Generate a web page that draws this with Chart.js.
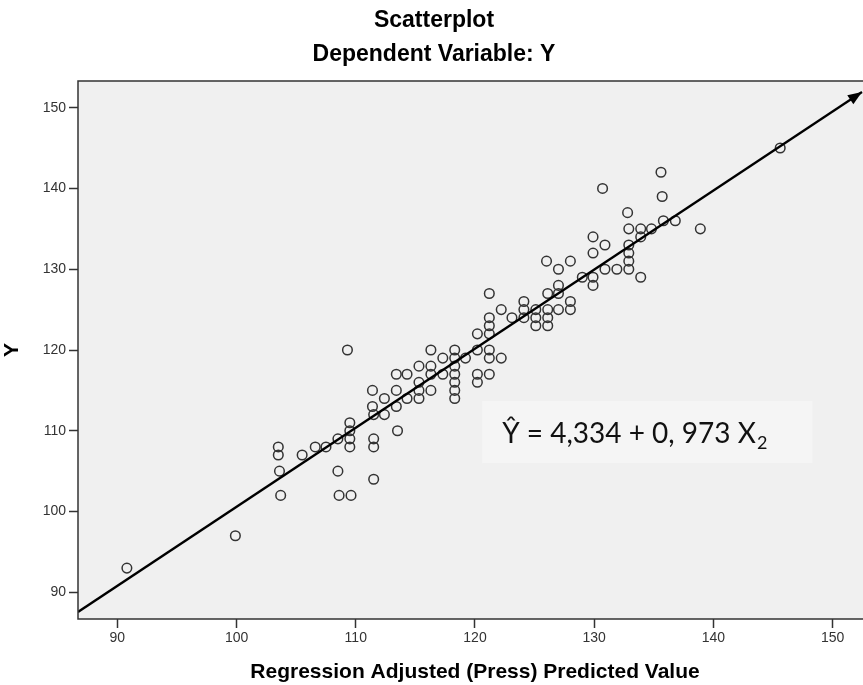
<!DOCTYPE html>
<html>
<head>
<meta charset="utf-8">
<title>Scatterplot</title>
<script src="https://cdn.jsdelivr.net/npm/chart.js@4.4.1/dist/chart.umd.min.js"></script>
<style>
  html, body { margin: 0; padding: 0; background: #fff; overflow: hidden; }
  #wrap { width: 880px; height: 685px; }
</style>
</head>
<body>
<div id="wrap"><canvas id="scatter" width="880" height="685"></canvas></div>
<script>
// adjusted (press) predicted value for each case
var predX = [
  90.8, 99.9,
  103.5, 103.5, 103.6, 103.7, 105.5, 106.6, 107.5,
  108.5, 108.5, 108.6, 109.6, 109.3,
  109.5, 109.5, 109.5, 109.5,
  111.4, 111.4, 111.5, 111.5, 111.5, 111.5,
  112.4, 112.4,
  113.4, 113.4, 113.4, 113.5,
  114.3, 114.3,
  115.3, 115.3, 115.3, 115.3,
  116.3, 116.3, 116.3, 116.3,
  117.3, 117.3,
  118.3, 118.3, 118.3, 118.3, 118.3, 118.3, 118.3,
  119.2,
  120.2, 120.2, 120.2, 120.2,
  121.2, 121.2, 121.2, 121.2, 121.2, 121.2, 121.2,
  122.2, 122.2, 123.1,
  124.1, 124.1, 124.1,
  125.1, 125.1, 125.1,
  126.1, 126.1, 126.1, 126.1, 126.0,
  127.0, 127.0, 127.0, 127.0,
  128.0, 128.0, 128.0, 129.0,
  129.9, 129.9, 129.9, 129.9,
  130.7, 130.9, 130.9, 131.9,
  132.8, 132.9, 132.9, 132.9, 132.9, 132.9,
  133.9, 133.9, 133.9, 134.8,
  135.6, 135.7, 135.8, 136.8, 138.9, 145.6
];
// observed Y for the same cases
var obsY = [
  93, 97,
  108, 107, 105, 102, 107, 108, 108,
  109, 105, 102, 102, 120,
  111, 110, 109, 108,
  115, 113, 112, 109, 108, 104,
  114, 112,
  117, 115, 113, 110,
  117, 114,
  118, 116, 115, 114,
  120, 118, 117, 115,
  119, 117,
  120, 119, 118, 117, 116, 115, 114,
  119,
  122, 120, 117, 116,
  127, 124, 123, 122, 120, 119, 117,
  125, 119, 124,
  126, 125, 124,
  125, 124, 123,
  127, 125, 124, 123, 131,
  130, 128, 127, 125,
  131, 126, 125, 129,
  134, 132, 129, 128,
  140, 133, 130, 130,
  137, 135, 133, 132, 131, 130,
  135, 134, 129, 135,
  142, 139, 136, 136, 135, 145
];
var tickVals = [90, 100, 110, 120, 130, 140, 150];
var axisMin = 86.7, axisMax = 153.3;

// regression arrow: tail and tip
var fitX = [86.7, 152.46];
var fitY = [87.57, 151.94];

var eqText = '\u0176 = 4,334 + 0, 973 X';
var eqSub = '2';
// where the equation panel sits, in axis units
var eqBox = { x0: 120.6, x1: 148.3, y0: 106.0, y1: 113.7 };

var sansFont = '"Liberation Sans", Arial, sans-serif';

var points = predX.map(function(x, i){ return { x: x, y: obsY[i] }; });
var fitLine = fitX.map(function(x, i){ return { x: x, y: fitY[i] }; });

var spssPlot = {
  id: 'spssPlot',
  beforeDraw: function(chart){
    var ctx = chart.ctx, a = chart.chartArea;
    ctx.save();
    ctx.fillStyle = '#fff';
    ctx.fillRect(0, 0, chart.width, chart.height);
    ctx.fillStyle = '#f0f0f0';
    ctx.fillRect(a.left, a.top, a.right - a.left, a.bottom - a.top);

    ctx.fillStyle = '#000';
    ctx.textAlign = 'center';
    ctx.textBaseline = 'middle';
    ctx.font = 'bold 23px ' + sansFont;
    ctx.fillText('Scatterplot', 434, 21);
    ctx.fillText('Dependent Variable: Y', 434, 55);
    ctx.restore();
  },
  beforeDatasetsDraw: function(chart){
    var ctx = chart.ctx, sx = chart.scales.x, sy = chart.scales.y;
    var l = sx.getPixelForValue(eqBox.x0), r = sx.getPixelForValue(eqBox.x1);
    var t = sy.getPixelForValue(eqBox.y1), b = sy.getPixelForValue(eqBox.y0);
    ctx.save();
    ctx.fillStyle = '#f5f5f5';
    ctx.fillRect(l, t, r - l, b - t);
    ctx.fillStyle = '#111';
    ctx.textAlign = 'left';
    ctx.textBaseline = 'alphabetic';
    ctx.font = '28px Lato, "Noto Sans", sans-serif';
    var base = b - 20;
    ctx.fillText(eqText, l + 20, base);
    var w = ctx.measureText(eqText).width;
    ctx.font = '18px Lato, "Noto Sans", sans-serif';
    ctx.fillText(eqSub, l + 21 + w, base + 6);
    ctx.restore();
  },
  afterDatasetsDraw: function(chart){
    // arrowhead at the end of the fitted line
    var ctx = chart.ctx, sx = chart.scales.x, sy = chart.scales.y;
    var x1 = sx.getPixelForValue(fitX[0]), y1 = sy.getPixelForValue(fitY[0]);
    var x2 = sx.getPixelForValue(fitX[1]), y2 = sy.getPixelForValue(fitY[1]);
    var ang = Math.atan2(y2 - y1, x2 - x1);
    var len = 14, half = 5.5;
    ctx.save();
    ctx.translate(x2, y2);
    ctx.rotate(ang);
    ctx.fillStyle = '#000';
    ctx.beginPath();
    ctx.moveTo(0, 0);
    ctx.lineTo(-len, -half);
    ctx.lineTo(-len, half);
    ctx.closePath();
    ctx.fill();
    ctx.restore();
  },
  afterDraw: function(chart){
    var ctx = chart.ctx, a = chart.chartArea;
    ctx.save();
    ctx.strokeStyle = '#333';
    ctx.lineWidth = 1.5;
    ctx.strokeRect(a.left, a.top, a.right - a.left, a.bottom - a.top);
    ctx.restore();
  }
};

new Chart(document.getElementById('scatter'), {
  type: 'scatter',
  data: {
    datasets: [
      {
        type: 'line',
        data: fitLine,
        borderColor: '#000',
        borderWidth: 2.3,
        pointRadius: 0,
        fill: false,
        tension: 0,
        order: 0
      },
      {
        data: points,
        pointStyle: 'circle',
        pointRadius: 4.8,
        pointBorderWidth: 1.5,
        borderColor: '#333',
        backgroundColor: 'rgba(0,0,0,0)',
        order: 1
      }
    ]
  },
  options: {
    responsive: false,
    animation: false,
    events: [],
    layout: { padding: { top: 81, left: 0, right: 8, bottom: 0 } },
    plugins: {
      legend: { display: false },
      tooltip: { enabled: false },
      title: { display: false }
    },
    scales: {
      x: {
        type: 'linear',
        min: axisMin,
        max: axisMax,
        afterBuildTicks: function(s){ s.ticks = tickVals.map(function(v){ return { value: v }; }); },
        afterFit: function(s){ s.height = 66; },
        border: { display: false },
        grid: { display: true, drawOnChartArea: false, drawTicks: true, tickLength: 9, tickWidth: 1.5, tickColor: '#333' },
        ticks: { padding: 2, color: '#333', maxRotation: 0, font: { family: sansFont, size: 14 } },
        title: {
          display: true,
          text: 'Regression Adjusted (Press) Predicted Value',
          color: '#000',
          padding: 0,
          font: { family: sansFont, size: 21, weight: 'bold' }
        }
      },
      y: {
        type: 'linear',
        min: axisMin,
        max: axisMax,
        afterBuildTicks: function(s){ s.ticks = tickVals.map(function(v){ return { value: v }; }); },
        afterFit: function(s){ s.width = 78; },
        border: { display: false },
        grid: { display: true, drawOnChartArea: false, drawTicks: true, tickLength: 9, tickWidth: 1.5, tickColor: '#333' },
        ticks: { padding: 3, color: '#333', font: { family: sansFont, size: 14 } },
        title: {
          display: true,
          text: 'Y',
          color: '#000',
          padding: 0,
          font: { family: sansFont, size: 21, weight: 'bold' }
        }
      }
    }
  },
  plugins: [spssPlot]
});
</script>
</body>
</html>
